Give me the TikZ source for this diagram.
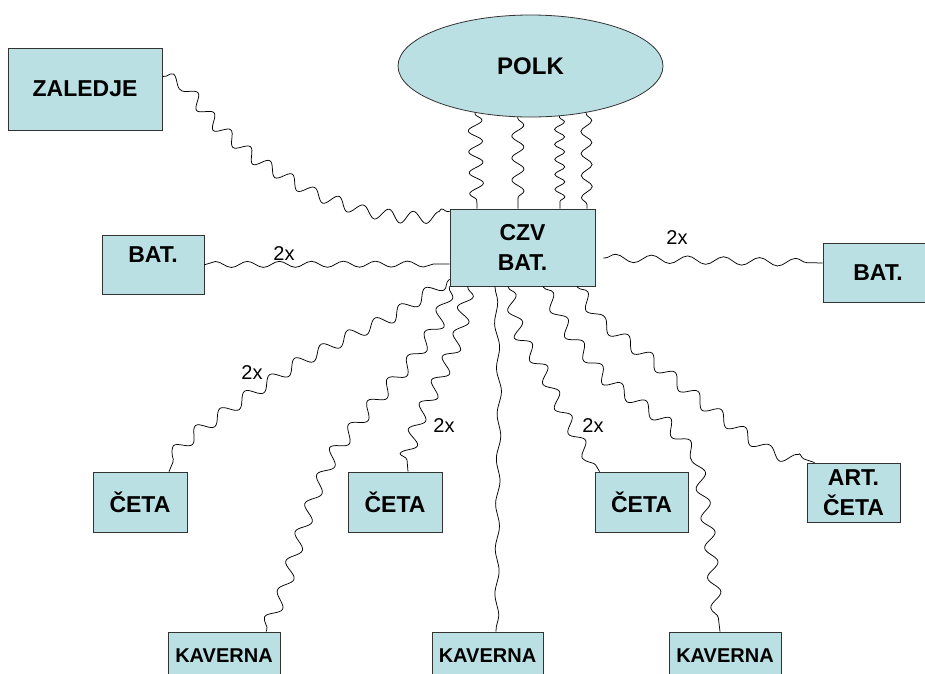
\documentclass[tikz,border=0pt]{standalone}
\usepackage{fontspec}
\setmainfont{Liberation Sans}
\usetikzlibrary{shapes.geometric,decorations.pathmorphing,calc}
\definecolor{boxfill}{RGB}{187,224,227}
\begin{document}
\begin{tikzpicture}[x=1pt,y=-1pt,
  box/.style={draw=black!80, line width=0.8pt, fill=boxfill, rectangle, inner sep=0pt, align=center, font=\bfseries\fontsize{23}{30}\selectfont},
  wire/.style={line width=0.75pt, decorate, decoration={snake, segment length=28pt, amplitude=5.5pt, pre length=1pt, post length=1pt}},
  mult/.style={font=\fontsize{20}{22}\selectfont, inner sep=0pt}
]
\clip (0,0) rectangle (925,673);
\useasboundingbox (0,0) rectangle (925,673);

% nodes
\node[box, minimum width=154pt, minimum height=82pt] (zal) at (85,89) {ZALEDJE};
\node[ellipse, draw=black!80, line width=0.8pt, fill=boxfill, minimum width=265pt, minimum height=102pt, inner sep=0pt, font=\bfseries\fontsize{24}{28}\selectfont] (polk) at (530.5,66) {POLK};
\node[box, minimum width=145pt, minimum height=77pt] (czv) at (522.5,247.5) {CZV\\BAT.};
\node[box, minimum width=102pt, minimum height=59pt, text depth=20pt] (batL) at (153,264.5) {BAT.};
\node[box, minimum width=110pt, minimum height=59pt] (batR) at (878,272.5) {BAT.};
\node[box, minimum width=94pt, minimum height=60pt] (cetaL) at (140,502) {ČETA};
\node[box, minimum width=94pt, minimum height=60pt] (cetaM) at (395,502) {ČETA};
\node[box, minimum width=93pt, minimum height=60pt] (cetaR) at (641.5,502) {ČETA};
\node[box, minimum width=93pt, minimum height=59pt] (art) at (853.5,492.5) {ART.\\ČETA};
\node[box, minimum width=112pt, minimum height=60pt, font=\bfseries\fontsize{20}{24}\selectfont, text depth=12pt] (kavL) at (224,662) {KAVERNA};
\node[box, minimum width=111pt, minimum height=60pt, font=\bfseries\fontsize{20}{24}\selectfont, text depth=12pt] (kavM) at (487.5,662) {KAVERNA};
\node[box, minimum width=112pt, minimum height=60pt, font=\bfseries\fontsize{20}{24}\selectfont, text depth=12pt] (kavR) at (725,662) {KAVERNA};

% labels
\node[mult] (l1) at (284,254) {2x};
\node[mult] (l2) at (677,238) {2x};
\node[mult] (l3) at (252,373) {2x};
\node[mult] (l4) at (444,426) {2x};
\node[mult] (l5) at (593,426) {2x};

% wire end points
\coordinate (zs) at ([yshift=13pt]zal.east);
\coordinate (ze) at ([yshift=-3pt]czv.north west);
\coordinate (bls) at ([yshift=-16.5pt]czv.west);
\coordinate (brs) at ([xshift=8pt,yshift=-10.5pt]czv.east);
\coordinate (bre) at ([yshift=9.5pt]batR.west);
\coordinate (b1s) at ([yshift=7pt]czv.south west);
\coordinate (b1e) at ([xshift=29pt]cetaL.north);
\coordinate (b2s) at (czv.south west);
\coordinate (b2e) at ([xshift=42pt]kavL.north);
\coordinate (b3s) at ([xshift=-54.5pt]czv.south);
\coordinate (b3e) at ([xshift=13pt]cetaM.north);
\coordinate (b4s) at ([xshift=-27.5pt]czv.south);
\coordinate (b4e) at ([xshift=8.5pt]kavM.north);
\coordinate (b5s) at ([xshift=-14.5pt]czv.south);
\coordinate (b5e) at ([xshift=5pt]cetaR.north west);
\coordinate (b6s) at ([xshift=20.5pt]czv.south);
\coordinate (b6e) at ([xshift=-5pt]kavR.north);
\coordinate (b7s) at ([xshift=54.5pt]czv.south);
\coordinate (b7e) at ([xshift=8pt]art.north west);

% wires
\draw[wire, decoration={segment length=26pt, amplitude=6pt}] (zs) -- (182,84) -- (196,102) -- (215,125) -- (250,155) -- (300,185) -- (350,203) -- (400,211) -- (ze);

\draw[wire, decoration={segment length=21pt, amplitude=7pt}] (polk.220.5) -- ([xshift=-45.5pt]czv.north);
\draw[wire, decoration={segment length=22pt, amplitude=6pt}] (polk.256) -- ([xshift=-4.5pt]czv.north);
\draw[wire, decoration={segment length=15pt, amplitude=5pt}] (polk.300.7) -- ([xshift=37.5pt]czv.north);
\draw[wire, decoration={segment length=22pt, amplitude=5.5pt}] (polk.320) -- ([xshift=64.5pt]czv.north);

\draw[wire, decoration={segment length=32pt, amplitude=3pt}] (batL.east) -- (bls);
\draw[wire, decoration={segment length=36pt, amplitude=4pt}] (brs) -- (bre);

\draw[wire, decoration={segment length=30pt, amplitude=6pt}] (b1s) -- (425,295) -- (395,315) -- (357,332) -- (300,362) -- (250,395) -- (200,430) -- (178,450) -- (b1e);
\draw[wire, decoration={segment length=30pt, amplitude=6.5pt}] (b2s) -- (440,318) -- (410,360) -- (370,405) -- (340,442) -- (318,488) -- (300,540) -- (285,592) -- (b2e);
\draw[wire, decoration={segment length=26pt, amplitude=7pt}] (b3s) -- (462,322) -- (440,370) -- (418,412) -- (406,448) -- (b3e);
\draw[wire, decoration={segment length=45pt, amplitude=2pt}] (b4s) -- (499,380) -- (497,500) -- (b4e);
\draw[wire, decoration={segment length=28pt, amplitude=6pt}] (b5s) -- (518,328) -- (543,365) -- (563,408) -- (582,442) -- (b5e);
\draw[wire, decoration={segment length=30pt, amplitude=6pt}] (b6s) -- (563,322) -- (608,378) -- (660,415) -- (698,458) -- (708,520) -- (714,582) -- (b6e);
\draw[wire, decoration={segment length=30pt, amplitude=6pt}] (b7s) -- (598,318) -- (640,350) -- (700,400) -- (760,444) -- (b7e);
\end{tikzpicture}
\end{document}
